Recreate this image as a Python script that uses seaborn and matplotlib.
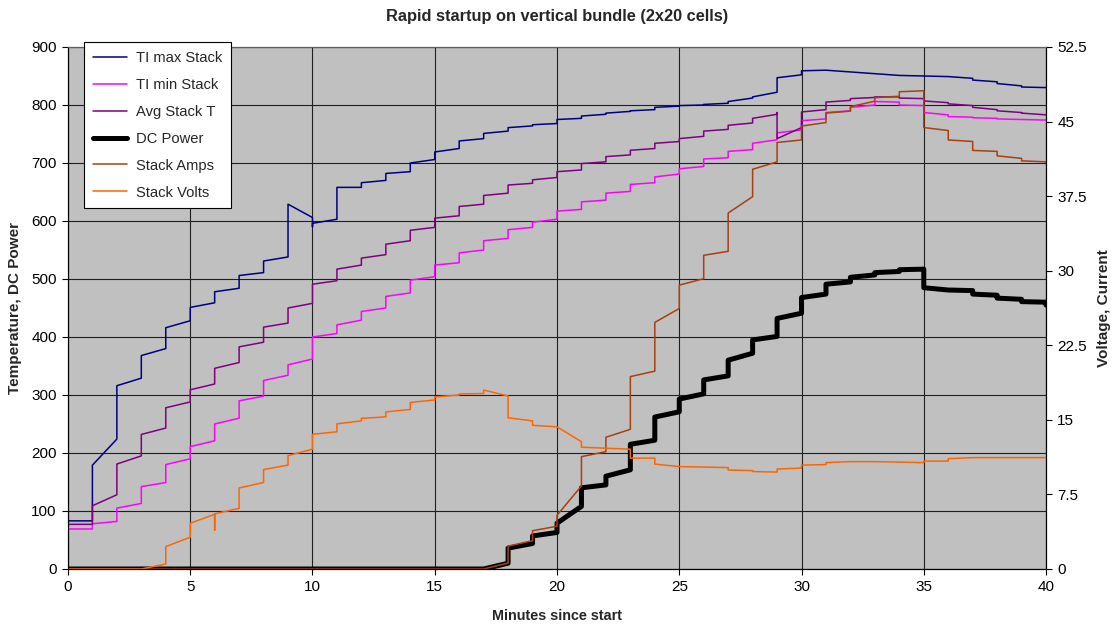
import matplotlib
matplotlib.use('Agg')
import matplotlib.pyplot as plt
import seaborn as sns

sns.set_style('ticks')
plt.rcParams['font.family'] = ['Liberation Sans', 'DejaVu Sans']

# ===== Data =====
# every series steps once a minute: value arriving at minute m, value just after the jump
minutes = list(range(41))

tmax_before = [83, 83, 224, 329, 380, 428, 459, 484, 511, 538, 606, 603, 658, 670, 685, 706, 725, 742, 755, 764,
               768, 777, 784, 789, 792, 798, 800, 803, 812, 822, 852, 860, 857, 854, 851, 850, 849, 846, 840, 833, 830]
tmax_after = [83, 179, 316, 368, 416, 451, 478, 506, 531, 629, 596, 658, 666, 682, 700, 719, 738, 751, 761, 766,
              775, 781, 786, 790, 796, 799, 801, 806, 814, 847, 859, 860, 857, 854, 851, 850, 849, 843, 837, 831, 830]

tmin_before = [69, 69, 82, 113, 149, 190, 221, 260, 298, 334, 362, 406, 429, 450, 476, 504, 528, 550, 570, 589,
               603, 620, 636, 651, 666, 681, 694, 709, 723, 740, 757, 776, 790, 800, 805, 799, 783, 779, 777, 775, 774]
tmin_after = [69, 78, 105, 142, 180, 211, 250, 290, 325, 352, 400, 421, 444, 470, 498, 524, 545, 566, 585, 598,
              617, 633, 648, 663, 676, 690, 707, 720, 734, 752, 773, 787, 796, 806, 800, 787, 780, 778, 776, 775, 774]

avg_before = [77, 77, 128, 195, 243, 288, 319, 356, 391, 424, 458, 497, 524, 542, 566, 589, 609, 629, 648, 665,
              675, 688, 702, 714, 725, 737, 746, 758, 769, 784, 761, 792, 808, 813, 814, 811, 804, 799, 792, 787, 783]
avg_after = [77, 109, 181, 232, 278, 309, 346, 383, 417, 450, 491, 517, 536, 560, 584, 605, 625, 644, 662, 671,
             685, 699, 711, 722, 734, 742, 755, 765, 777, 742, 788, 805, 811, 814, 812, 807, 802, 796, 790, 786, 783]

power_before = [0, 0, 0, 0, 0, 0, 0, 0, 0, 0, 0, 0, 0, 0, 0, 0, 0, 0, 10, 44,
                63, 108, 145, 171, 222, 271, 302, 333, 372, 401, 441, 474, 495, 507, 513, 517, 481, 480, 472, 465, 460]
power_after = [0, 0, 0, 0, 0, 0, 0, 0, 0, 0, 0, 0, 0, 0, 0, 0, 0, 0, 36, 57,
               79, 140, 160, 215, 262, 293, 326, 360, 395, 432, 468, 491, 503, 511, 516, 485, 481, 474, 467, 461, 455]

amps_before = [0, 0, 0, 0, 0, 0, 0, 0, 0, 0, 0, 0, 0, 0, 0, 0, 0, 0, 0.6, 2.85,
               4.3, 8.35, 11.8, 14.05, 19.9, 26.2, 29.2, 31.95, 37.45, 40.95, 43.15, 44.9, 46.05, 47.05, 47.55, 48.1,
               44.1, 43.0, 42.0, 41.3, 40.95]
amps_after = [0, 0, 0, 0, 0, 0, 0, 0, 0, 0, 0, 0, 0, 0, 0, 0, 0, 0, 2.3, 3.85,
              5.4, 11.3, 13.25, 19.35, 24.8, 28.55, 31.55, 35.8, 40.2, 42.9, 44.55, 45.85, 46.5, 47.4, 48.0, 44.4,
              43.15, 42.1, 41.55, 41.05, 40.95]

volts_before = [0, 0, 0, 0, 0.5, 3.2, 5.5, 6.1, 8.7, 10.45, 12.05, 13.8, 14.9, 15.3, 16.05, 17.0, 17.5, 17.65, 17.4, 14.9,
                14.3, 12.8, 12.15, 12.05, 11.15, 10.3, 10.25, 10.2, 9.9, 9.75, 10.15, 10.5, 10.8, 10.8, 10.75, 10.7,
                10.85, 11.2, 11.2, 11.2, 11.2]
volts_after = [0, 0, 0, 0, 2.25, 4.6, 5.55, 8.15, 10.0, 11.4, 13.55, 14.6, 15.15, 15.8, 16.75, 17.3, 17.6, 18.0, 15.2, 14.45,
               14.3, 12.25, 12.15, 11.15, 10.55, 10.3, 10.25, 9.95, 9.8, 10.05, 10.45, 10.7, 10.8, 10.8, 10.75, 10.85,
               11.1, 11.2, 11.2, 11.2, 11.2]

# short glitches at a single minute
tmax_glitch = {10: 590}
avg_glitch = {29: 787}
volts_glitch = {6: 3.9}


def steps(before, after, glitch=None):
    glitch = glitch or {}
    xs, ys = [], []
    for m, b, a in zip(minutes, before, after):
        xs.append(m)
        ys.append(b)
        if m in glitch:
            xs.append(m)
            ys.append(glitch[m])
        xs.append(m)
        ys.append(a)
    return xs, ys


fig, ax = plt.subplots(figsize=(11.14, 6.25), dpi=100)
fig.subplots_adjust(left=0.061, right=0.939, bottom=0.0896, top=0.9248)
ax2 = ax.twinx()

ax.set_facecolor('#C0C0C0')

left_series = [
    ('TI max Stack', tmax_before, tmax_after, tmax_glitch, '#000080', 1.1),
    ('TI min Stack', tmin_before, tmin_after, None, '#FF00FF', 1.1),
    ('Avg Stack T', avg_before, avg_after, avg_glitch, '#800080', 1.1),
    ('DC Power', power_before, power_after, None, '#000000', 3.6),
]
right_series = [
    ('Stack Amps', amps_before, amps_after, None, '#A84010', 1.1),
    ('Stack Volts', volts_before, volts_after, volts_glitch, '#FF6600', 1.1),
]

for name, b, a, g, col, lw in left_series:
    xs, ys = steps(b, a, g)
    sns.lineplot(x=xs, y=ys, ax=ax, estimator=None, sort=False, color=col, linewidth=lw, label=name)
for name, b, a, g, col, lw in right_series:
    xs, ys = steps(b, a, g)
    sns.lineplot(x=xs, y=ys, ax=ax2, estimator=None, sort=False, color=col, linewidth=lw, label=name)

for a_ in (ax, ax2):
    if a_.get_legend() is not None:
        a_.get_legend().remove()

ax.set_xlim(0, 40)
ax.set_ylim(0, 900)
ax2.set_ylim(0, 52.5)
ax.set_xticks(range(0, 41, 5))
ax.set_yticks(range(0, 901, 100))
ax2.set_yticks([0, 7.5, 15, 22.5, 30, 37.5, 45, 52.5])
ax2.set_yticklabels(['0', '7.5', '15', '22.5', '30', '37.5', '45', '52.5'])

ax.grid(True, color='#202020', linewidth=0.8)
ax.set_axisbelow(True)
ax2.grid(False)

for a_ in (ax, ax2):
    a_.tick_params(axis='both', direction='out', length=4, width=0.8, labelsize=11, colors='black', pad=4)
    for s in a_.spines.values():
        s.set_color('black')
        s.set_linewidth(0.8)
ax2.spines['top'].set_color('#606060')

ax.set_title('Rapid startup on vertical bundle (2x20 cells)', fontsize=11.8, fontweight='bold', pad=19)
ax.set_xlabel('Minutes since start', fontsize=10.4, fontweight='bold')
ax.set_ylabel('Temperature, DC Power', fontsize=11, fontweight='bold')
ax2.set_ylabel('Voltage, Current', fontsize=11, fontweight='bold')
ax.xaxis.set_label_coords(0.5, -0.0766)
ax.yaxis.set_label_coords(-0.047, 0.5)
ax2.yaxis.set_label_coords(1.052, 0.5)

h1, l1 = ax.get_legend_handles_labels()
h2, l2 = ax2.get_legend_handles_labels()
leg = ax2.legend(h1 + h2, l1 + l2, loc='upper left', bbox_to_anchor=(0.0164, 1.0096),
                 fontsize=10.6, frameon=True, fancybox=False, framealpha=1,
                 edgecolor='black', borderpad=0.6, labelspacing=0.88,
                 handlelength=2.3, handletextpad=0.6, borderaxespad=0)
leg.get_frame().set_linewidth(0.8)

fig.savefig('out.png', dpi=100)
